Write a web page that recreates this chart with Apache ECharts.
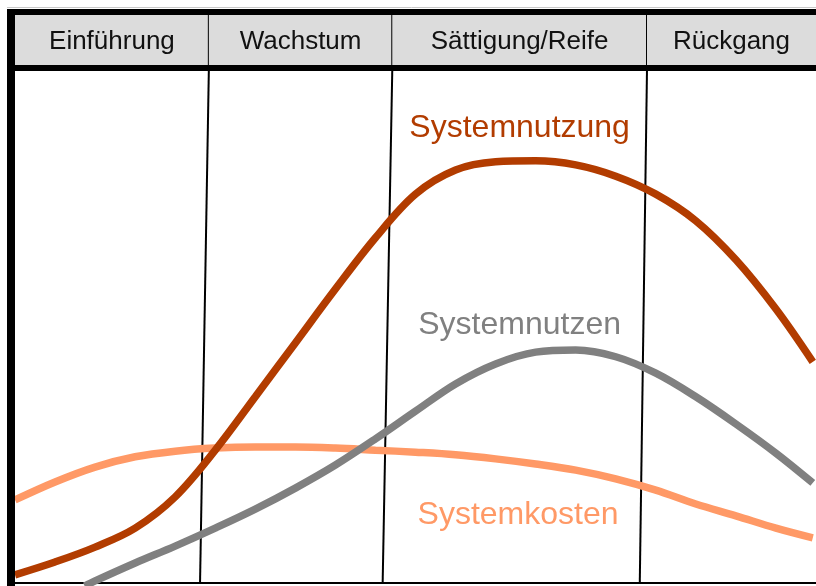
<!DOCTYPE html>
<html>
<head>
<meta charset="utf-8">
<script src="https://cdn.jsdelivr.net/npm/echarts@6/dist/echarts.min.js"></script>
<style>
    html, body {margin: 0; padding: 0; background: #fff;}
    #chart {width: 816px; height: 586px;}
</style>
</head>
<body>
<div id="chart"></div>
<script>
    // Phasen (Kopfzeile) und Phasengrenzen in % der Lebensdauer
    var phases = ['Einführung', 'Wachstum', 'Sättigung/Reife', 'Rückgang'];
    var phaseEdgesTop = [0, 24.2, 47.1, 78.9, 100];
    var phaseEdgesBottom = [0, 23.1, 45.9, 78.0, 100];

    // Zeitachse (in % der Lebensdauer)
    var timeX = [0, 5, 10, 15, 20, 25, 30, 35, 40, 45, 50, 55, 60, 65, 70, 75, 80, 85, 90, 95, 99.6];

    // Systemnutzung
    var nutzungY = [1.6, 4.1, 7.0, 10.7, 16.8, 25.9, 36.3, 46.8, 57.3, 67.3, 75.8, 80.5, 82.1, 82.3, 81.5, 79.3, 75.8, 70.6, 63.0, 53.4, 43.1];

    // Systemnutzen (beginnt erst bei ca. 9 %)
    var nutzenX = [8.7, 10, 15, 20, 25, 30, 35, 40, 45, 50, 55, 60, 65, 70, 75, 80, 85, 90, 95, 99.6];
    var nutzenY = [-0.6, 0.4, 3.9, 7.2, 10.7, 14.4, 18.5, 23.0, 28.1, 33.5, 38.8, 42.7, 45.0, 45.4, 44.1, 40.9, 36.3, 31.0, 25.3, 19.5];

    // Systemkosten
    var kostenY = [16.2, 19.7, 22.6, 24.6, 25.7, 26.3, 26.5, 26.5, 26.3, 25.9, 25.5, 25.0, 24.2, 23.2, 22.0, 20.3, 18.1, 15.4, 13.1, 10.7, 8.8];

    var FONT = "'Liberation Sans', Arial, sans-serif";

    function pairs(xs, ys) {
        var out = [];
        for (var i = 0; i < xs.length; i++) {
            out.push([xs[i], ys[i]]);
        }
        return out;
    }

    var headerData = [];
    for (var i = 0; i < phases.length; i++) {
        headerData.push([phaseEdgesTop[i], phaseEdgesTop[i + 1], phases[i]]);
    }

    function curve(name, xs, ys, color, labelCoord) {
        return {
            name: name,
            type: 'line',
            xAxisIndex: 1,
            yAxisIndex: 1,
            smooth: 0.35,
            symbol: 'none',
            silent: true,
            clip: true,
            z: 5,
            lineStyle: {color: color, width: 7.5},
            data: pairs(xs, ys),
            markPoint: {
                symbol: 'circle',
                symbolSize: 0,
                silent: true,
                label: {
                    show: true,
                    position: 'inside',
                    formatter: name,
                    color: color,
                    fontFamily: FONT,
                    fontSize: 32
                },
                data: [{coord: labelCoord}]
            }
        };
    }

    var series = [{
        type: 'custom',
        xAxisIndex: 0,
        yAxisIndex: 0,
        silent: true,
        data: headerData,
        renderItem: function (params, api) {
            var p0 = api.coord([api.value(0), 1]);
            var p1 = api.coord([api.value(1), 0]);
            var children = [{
                type: 'rect',
                shape: {x: p0[0], y: p0[1], width: p1[0] - p0[0], height: p1[1] - p0[1]},
                style: {fill: '#dcdcdc'}
            }, {
                type: 'text',
                style: {
                    x: (p0[0] + p1[0]) / 2,
                    y: (p0[1] + p1[1]) / 2 + 2,
                    text: headerData[params.dataIndex][2],
                    align: 'center',
                    verticalAlign: 'middle',
                    fill: '#111',
                    font: '26px ' + FONT
                }
            }];
            if (params.dataIndex < phases.length - 1) {
                children.push({
                    type: 'line',
                    shape: {x1: p1[0], y1: p0[1], x2: p1[0], y2: p1[1]},
                    style: {stroke: '#000', lineWidth: 2}
                });
            }
            return {type: 'group', children: children};
        }
    }];

    // Phasengrenzen im Diagramm (leicht schräg)
    for (var k = 1; k < phases.length; k++) {
        series.push({
            type: 'line',
            xAxisIndex: 1,
            yAxisIndex: 1,
            symbol: 'none',
            silent: true,
            z: 3,
            lineStyle: {color: '#000', width: 2},
            data: [[phaseEdgesTop[k], 100], [phaseEdgesBottom[k], 0]]
        });
    }

    series.push(curve('Systemkosten', timeX, kostenY, '#ff9966', [62.8, 13.3]));
    series.push(curve('Systemnutzen', nutzenX, nutzenY, '#808080', [63.0, 50.3]));
    series.push(curve('Systemnutzung', timeX, nutzungY, '#b23c00', [63.0, 88.7]));

    var myChart = echarts.init(document.getElementById('chart'));
    myChart.setOption({
        animation: false,
        backgroundColor: '#fff',
        grid: [
            {left: 15, right: 0, top: 15, height: 50},
            {left: 15, right: 0, top: 70, bottom: 3}
        ],
        xAxis: [
            {gridIndex: 0, type: 'value', min: 0, max: 100, show: false},
            {
                gridIndex: 1, type: 'value', min: 0, max: 100,
                axisLine: {show: true, onZero: false, lineStyle: {color: '#000', width: 2}},
                axisTick: {show: false},
                axisLabel: {show: false},
                splitLine: {show: false}
            }
        ],
        yAxis: [
            {gridIndex: 0, type: 'value', min: 0, max: 1, show: false},
            {gridIndex: 1, type: 'value', min: 0, max: 100, show: false}
        ],
        graphic: [
            {type: 'line', z: 100, shape: {x1: 7, y1: 7.5, x2: 816, y2: 7.5}, style: {stroke: '#c8c8c8', lineWidth: 1}},
            {type: 'rect', z: 100, shape: {x: 7, y: 9, width: 809, height: 6}, style: {fill: '#000'}},
            {type: 'rect', z: 100, shape: {x: 7, y: 9, width: 8, height: 577}, style: {fill: '#000'}},
            {type: 'rect', z: 100, shape: {x: 15, y: 65, width: 801, height: 6}, style: {fill: '#000'}}
        ],
        series: series
    });
</script>
</body>
</html>
